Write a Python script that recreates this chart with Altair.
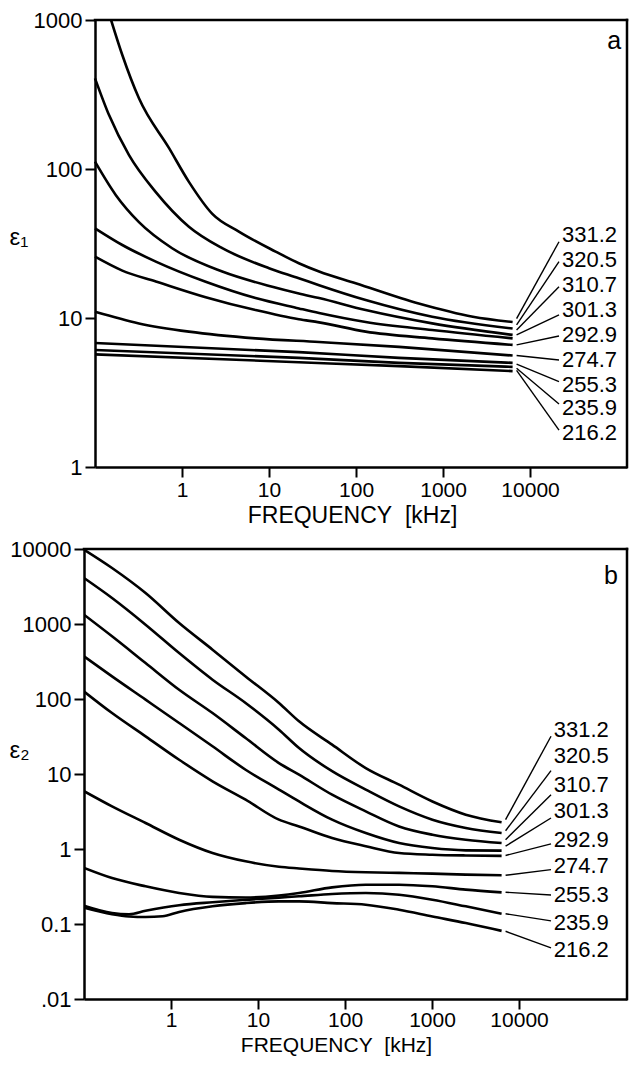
import altair as alt
import pandas as pd

LABELS = ["331.2", "320.5", "310.7", "301.3", "292.9", "274.7", "255.3", "235.9", "216.2"]

# ---------- panel a : eps1 vs frequency (kHz) ----------
EPS1_FREQ = {
    "331.2": [0.153, 0.206, 0.32, 0.71, 1.2, 2.23, 4.5, 11.9, 22, 37.6, 99, 525, 2200, 6300],
    "320.5": [0.1, 0.145, 0.246, 0.5, 1.2, 2.9, 10, 22, 37.6, 129, 750, 6300],
    "310.7": [0.1, 0.173, 0.32, 0.77, 2.9, 10.9, 22, 37.6, 129, 750, 6300],
    "301.3": [0.1, 0.206, 0.5, 1.87, 7, 22, 37.6, 129, 750, 6300],
    "292.9": [0.1, 0.206, 0.5, 1.87, 7, 22, 37.6, 129, 750, 6300],
    "274.7": [0.1, 0.32, 1.2, 7, 37.6, 312, 6300],
    "255.3": [0.1, 22, 312, 6300],
    "235.9": [0.1, 22, 312, 6300],
    "216.2": [0.1, 22, 312, 6300],
}
EPS1_VAL = {
    "331.2": [1000, 582, 298, 138, 82, 50, 38, 27.9, 23.3, 20.5, 17.1, 12.5, 10.2, 9.4],
    "320.5": [406, 230, 124, 70, 41, 29.4, 21.6, 18.5, 16.6, 13.2, 10.2, 8.5],
    "310.7": [112, 67, 44, 29.4, 20.5, 16.2, 14.6, 13.6, 11.3, 9.2, 7.7],
    "301.3": [40, 30.9, 23.9, 17.5, 13.6, 11.6, 10.8, 9.4, 8.3, 7.3],
    "292.9": [25.8, 20.8, 17.6, 13.8, 11.3, 9.8, 9.35, 8.1, 7.3, 6.6],
    "274.7": [11.0, 9.2, 8.1, 7.3, 6.9, 6.4, 5.6],
    "255.3": [6.8, 5.9, 5.4, 5.0],
    "235.9": [6.1, 5.4, 5.0, 4.7],
    "216.2": [5.7, 5.05, 4.75, 4.4],
}
A_LEAD_START = [9.9, 9.0, 8.3, 7.7, 6.6, 5.6, 4.9, 4.6, 4.45]
A_LEAD_END = [32.5, 23.9, 16.2, 10.5, 7.57, 5.23, 3.74, 2.65, 1.77]
A_LABEL_V = [36.1, 24.5, 16.6, 11.3, 7.69, 5.23, 3.55, 2.49, 1.69]
A_LEAD_F = [7000, 21500]
A_TEXT_F = 23300
A_XDOM = [0.1, 130000]
A_YDOM = [1, 1000]

# ---------- panel b : eps2 vs frequency (kHz) ----------
FB = [0.1, 0.21, 0.51, 1.24, 3, 7.2, 17.4, 29.6, 71, 173, 418, 1010, 2440, 6300]
EPS2_FREQ = {
    "331.2": FB, "320.5": FB, "310.7": FB, "301.3": FB, "292.9": FB,
    "274.7": FB, "255.3": FB,
    "235.9": [0.1, 0.21, 0.33, 0.51, 1.24, 3, 7.2, 17.4, 29.6, 71, 173, 418, 1010, 2440, 6300],
    "216.2": [0.1, 0.21, 0.33, 0.51, 0.8, 1.24, 3, 7.2, 17.4, 29.6, 71, 173, 418, 1010, 2440, 6300],
}
EPS2_VAL = {
    "331.2": [9790, 5580, 2590, 1030, 455, 200, 88.5, 50.4, 24.6, 12.0, 7.2, 4.3, 2.87, 2.27],
    "320.5": [4100, 2220, 980, 410, 181, 88.5, 39, 22.2, 10.9, 6.2, 3.7, 2.46, 1.91, 1.63],
    "310.7": [1330, 686, 302, 133, 65, 30.2, 14, 9.8, 5.3, 3.18, 2.0, 1.55, 1.33, 1.2],
    "301.3": [371, 200, 98, 47.9, 23.4, 11.4, 6.2, 4.3, 2.46, 1.63, 1.2, 1.03, 0.96, 0.95],
    "292.9": [126, 65, 31.8, 15.5, 8.0, 4.55, 2.46, 2.0, 1.40, 1.09, 0.885, 0.84, 0.82, 0.81],
    "274.7": [5.9, 3.7, 2.22, 1.33, 0.885, 0.685, 0.58, 0.55, 0.51, 0.49, 0.48, 0.47, 0.455, 0.446],
    "255.3": [0.56, 0.41, 0.318, 0.259, 0.23, 0.226, 0.24, 0.259, 0.308, 0.334, 0.334, 0.318, 0.287, 0.264],
    "235.9": [0.175, 0.14, 0.135, 0.15, 0.178, 0.195, 0.21, 0.225, 0.234, 0.251, 0.259, 0.246, 0.211, 0.172, 0.137],
    "216.2": [0.165, 0.135, 0.126, 0.124, 0.127, 0.145, 0.172, 0.19, 0.2, 0.2, 0.19, 0.181, 0.155, 0.126, 0.103, 0.081],
}
B_LEAD_START = [2.46, 1.75, 1.33, 1.09, 0.82, 0.446, 0.265, 0.137, 0.080]
B_LEAD_END = [31.9, 11.1, 5.3, 2.59, 1.17, 0.53, 0.244, 0.11, 0.048]
B_LABEL_V = [39, 17.2, 7.2, 3.21, 1.33, 0.593, 0.246, 0.103, 0.0454]
B_LEAD_F = [7000, 23300]
B_TEXT_F = 25000
B_XDOM = [0.1, 174000]
B_YDOM = [0.01, 10000]

FONT = "Liberation Sans"
BLACK = "black"


def curves_df(freqs, vals):
    rows = []
    for lab in LABELS:
        for f, v in zip(freqs[lab], vals[lab]):
            rows.append({"label": lab, "f": f, "v": v})
    return pd.DataFrame(rows)


def leads_df(lead_f, starts, ends):
    rows = []
    for lab, s, e in zip(LABELS, starts, ends):
        rows.append({"label": lab, "f": lead_f[0], "v": s})
        rows.append({"label": lab, "f": lead_f[1], "v": e})
    return pd.DataFrame(rows)


def texts_df(text_f, vals):
    return pd.DataFrame({"label": LABELS, "f": [text_f] * len(LABELS), "v": vals})


def frame_df(xdom, ydom):
    # top edge and right edge of the plot box, in data units
    return pd.DataFrame({"f": [xdom[0], xdom[1]], "f2": [xdom[1], xdom[1]],
                         "v": [ydom[1], ydom[0]], "v2": [ydom[1], ydom[1]]})


def panel(cdf, ldf, tdf, letter, letter_f, letter_v, xdom, ydom, xrange, yoffset,
          yvals, ylabexpr, ytitle, ytx, yty, xtx, xty, xtsize, xlpad, width, height):
    xscale = alt.Scale(type="log", domain=xdom, range=xrange)
    yscale = alt.Scale(type="log", domain=ydom)
    x = alt.X("f:Q", scale=xscale,
              axis=alt.Axis(values=[1, 10, 100, 1000, 10000],
                            labelExpr="format(datum.value, 'd')",
                            title="FREQUENCY\u00a0 [kHz]", titleX=xtx, titleY=xty,
                            titleAlign="center", titleBaseline="middle",
                            titleFont=FONT, titleFontSize=xtsize, titleFontWeight="normal",
                            titleColor=BLACK,
                            labelFont=FONT, labelFontSize=21, labelColor=BLACK,
                            labelPadding=xlpad, tickSize=10, tickWidth=2, tickColor=BLACK,
                            domainColor=BLACK, domainWidth=2.5,
                            labelFlush=False, labelOverlap=False, grid=False))
    y = alt.Y("v:Q", scale=yscale,
              axis=alt.Axis(values=yvals, labelExpr=ylabexpr, title=ytitle, offset=yoffset,
                            titleAngle=0, titleX=ytx, titleY=yty, titleAlign="left",
                            titleBaseline="middle", titleFont=FONT, titleFontSize=24,
                            titleFontWeight="normal", titleColor=BLACK,
                            labelFont=FONT, labelFontSize=22, labelColor=BLACK,
                            labelPadding=3, tickSize=10, tickWidth=2, tickColor=BLACK,
                            domainColor=BLACK, domainWidth=2.5,
                            labelOverlap=False, grid=False))
    layers = [
        alt.Chart(frame_df(xdom, ydom)).mark_rule(
            color=BLACK, strokeWidth=2.5, strokeCap="square").encode(
            x=x, y=y, x2="f2:Q", y2="v2:Q"),
        alt.Chart(cdf).mark_line(color=BLACK, strokeWidth=2.6,
                                 interpolate="monotone", clip=True).encode(
            x=x, y=y, detail="label:N"),
        alt.Chart(ldf).mark_line(color=BLACK, strokeWidth=1.4).encode(
            x=x, y=y, detail="label:N"),
        alt.Chart(tdf).mark_text(font=FONT, fontSize=22, align="left",
                                 baseline="middle", color=BLACK).encode(
            x=x, y=y, text="label:N"),
        alt.Chart(pd.DataFrame({"t": [letter], "f": [letter_f], "v": [letter_v]})).mark_text(
            font=FONT, fontSize=25, align="center", baseline="middle", color=BLACK).encode(
            x=x, y=y, text="t:N"),
    ]
    return alt.layer(*layers).properties(
        width=width, height=height,
        view=alt.ViewBackground(stroke="transparent"))


pa = panel(curves_df(EPS1_FREQ, EPS1_VAL), leads_df(A_LEAD_F, A_LEAD_START, A_LEAD_END),
           texts_df(A_TEXT_F, A_LABEL_V), "a", 92500, 723,
           A_XDOM, A_YDOM, [11, 543], -11,
           [1, 10, 100, 1000], "format(datum.value, 'd')",
           "ε₁", -86, 217, 268, 48, 23, 2, 543, 447)

pb = panel(curves_df(EPS2_FREQ, EPS2_VAL), leads_df(B_LEAD_F, B_LEAD_START, B_LEAD_END),
           texts_df(B_TEXT_F, B_LABEL_V), "b", 114000, 4365,
           B_XDOM, B_YDOM, [0, 543], 0,
           [0.01, 0.1, 1, 10, 100, 1000, 10000],
           "datum.value < 0.05 ? '.01' : (datum.value < 0.5 ? '0.1' : format(datum.value, 'd'))",
           "ε₂", -75, 201, 252, 46, 21, 0, 543, 450)

chart = alt.vconcat(pa, pb, spacing=9).properties(
    padding={"left": 0, "top": 0, "right": 0, "bottom": 0},
)

chart.save("out.html", embed_options={"renderer": "svg", "actions": False})
